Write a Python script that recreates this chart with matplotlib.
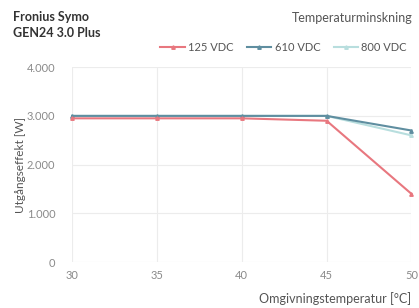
import matplotlib
matplotlib.use("Agg")
import matplotlib.pyplot as plt
from matplotlib.ticker import FuncFormatter

temps = [30, 35, 40, 45, 50]
p_125 = [2950, 2950, 2950, 2900, 1400]
p_610 = [3000, 3000, 3000, 3000, 2700]
p_800 = [3000, 3000, 3000, 3000, 2600]
series = [("125 VDC", p_125, "#e8777f"),
          ("610 VDC", p_610, "#5f8ea0"),
          ("800 VDC", p_800, "#b8dede")]

GRID, TXT, TICK = "#ececec", "#555555", "#8a8a8a"
plt.rcParams.update({"font.family": "Lato", "font.size": 8})

fig = plt.figure(figsize=(4.19, 3.08), dpi=100)
ax = fig.add_axes([0.172, 0.149, 0.81, 0.633])

for name, vals, col in series[::-1]:
    ax.plot(temps, vals, color=col, lw=1.5, marker="^", ms=2.5, label=name, zorder=3,
            clip_on=False)

ax.set_xlim(30, 50)
ax.set_ylim(0, 4000)
ax.set_xticks(temps)
ax.set_yticks([0, 1000, 2000, 3000, 4000])
ax.yaxis.set_major_formatter(FuncFormatter(lambda v, _: "{:,.0f}".format(v).replace(",", ".")))
ax.grid(True, color=GRID, lw=0.8, zorder=0)
for sp in ax.spines.values():
    sp.set_visible(False)
ax.tick_params(length=0, colors=TICK, labelsize=8)
ax.tick_params(axis="x", pad=6)
ax.tick_params(axis="y", pad=12)
ax.set_ylabel("Utgångseffekt [W]", color=TXT, fontsize=8.5, va="center")
ax.yaxis.set_label_coords(-0.153, 0.5)
ax.set_xlabel("Omgivningstemperatur [°C]", color=TXT, fontsize=9, ha="right", va="center")
ax.xaxis.set_label_coords(1.0, -0.185)

fig.text(0.03, 0.965, "Fronius Symo\nGEN24 3.0 Plus", fontsize=9, fontweight="bold",
         color="#333333", va="top", ha="left", linespacing=1.4)
fig.text(0.985, 0.94, "Temperaturminskning", fontsize=9, color=TXT, va="center", ha="right")

handles, labels = ax.get_legend_handles_labels()
fig.legend(handles[::-1], labels[::-1], loc="center right", bbox_to_anchor=(0.995, 0.845),
           ncol=3, frameon=False, fontsize=8, handlelength=2.2, handletextpad=0.3,
           columnspacing=1.2, labelcolor=TXT)

fig.savefig("out.png", dpi=100)
